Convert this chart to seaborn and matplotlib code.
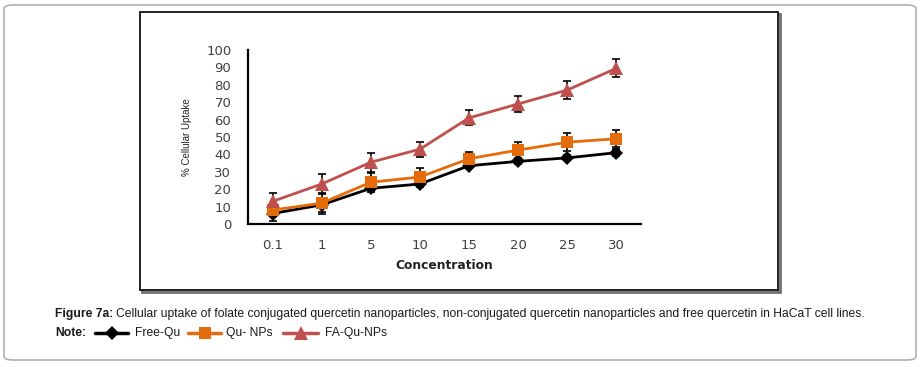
import numpy as np
import pandas as pd
import seaborn as sns
import matplotlib.pyplot as plt
from matplotlib.patches import Rectangle, FancyBboxPatch
from matplotlib.lines import Line2D

concentrations = ['0.1', '1', '5', '10', '15', '20', '25', '30']
free_qu = [6, 11, 20.5, 23, 33.5, 36, 38, 41]
free_qu_err = [4, 4, 1.5, 1.5, 1.5, 1.5, 1.5, 2]
qu_nps = [8, 12, 24, 27, 37.5, 42.5, 47, 49]
qu_nps_err = [3, 6, 5.5, 5, 4, 4.5, 5.2, 5]
fa_qu_nps = [13, 23, 35.5, 43, 61, 69, 77, 89.5]
fa_qu_nps_err = [5, 5.5, 5.5, 4.3, 4.3, 4.7, 5.2, 5.2]

series_names = ['Free-Qu', 'Qu- NPs', 'FA-Qu-NPs']
colors = {'Free-Qu': '#000000', 'Qu- NPs': '#E46C0A', 'FA-Qu-NPs': '#C0504D'}
markers = {'Free-Qu': 'D', 'Qu- NPs': 's', 'FA-Qu-NPs': '^'}
msizes = {'Free-Qu': 7, 'Qu- NPs': 8.5, 'FA-Qu-NPs': 10}

frames = []
for name, vals, errs in zip(series_names, [free_qu, qu_nps, fa_qu_nps],
                            [free_qu_err, qu_nps_err, fa_qu_nps_err]):
    frames.append(pd.DataFrame({'Concentration': concentrations, 'pos': range(len(concentrations)),
                                'Uptake': vals, 'err': errs, 'Series': name}))
data = pd.concat(frames, ignore_index=True)

sns.set_style('white')
plt.rcParams['font.family'] = ['DejaVu Sans']

fig = plt.figure(figsize=(9.21, 3.67), dpi=100)

# outer rounded frame and inner (shadowed) chart frame, kept behind the axes
fig.patches.append(FancyBboxPatch((4 / 921, 7 / 367), 912 / 921, 355 / 367,
                                  boxstyle='round,pad=0,rounding_size=0.01',
                                  transform=fig.transFigure, fill=False,
                                  edgecolor='#b0b0b0', linewidth=1.2, zorder=-2))
fig.patches.append(Rectangle((142 / 921, 75 / 367), 638 / 921, 278 / 367,
                             transform=fig.transFigure, fill=False,
                             edgecolor='#707070', linewidth=2, zorder=-2))
fig.patches.append(Rectangle((140 / 921, 77 / 367), 638 / 921, 278 / 367,
                             transform=fig.transFigure, facecolor='white',
                             edgecolor='#111111', linewidth=1.3, zorder=-1))

ax = fig.add_axes([248 / 921, 1 - 224 / 367, 393 / 921, 174 / 367])
ax.set_facecolor('none')

# error bars first, then lines with markers on top
for name in series_names:
    d = data[data['Series'] == name]
    ax.errorbar(d['pos'], d['Uptake'], yerr=d['err'], fmt='none',
                ecolor='#000000', elinewidth=1.2, capsize=3, capthick=1.2, zorder=2)

n_before = len(ax.lines)
sns.lineplot(data=data, x='pos', y='Uptake', hue='Series', style='Series',
             palette=colors, markers=markers, dashes=False, linewidth=2,
             markeredgewidth=0, legend=False, ax=ax, zorder=3)
for line, name in zip(ax.lines[n_before:], series_names):
    line.set_markersize(msizes[name])

ax.set_xlim(-0.5, 7.5)
ax.set_ylim(0, 100)
ax.set_yticks(range(0, 101, 10))
ax.set_xticks(range(len(concentrations)))
ax.set_xticklabels(concentrations)
ax.set_xticks(np.arange(-0.5, 8, 1), minor=True)
ax.tick_params(axis='x', which='major', length=0, pad=11, labelsize=9.5, labelcolor='#404040')
ax.tick_params(axis='x', which='minor', length=4, width=1.5, direction='out', color='black')
ax.tick_params(axis='y', length=4, width=1.5, direction='out', pad=8, labelsize=9.5,
               labelcolor='#404040', color='black')
for s in ['top', 'right']:
    ax.spines[s].set_visible(False)
for s in ['left', 'bottom']:
    ax.spines[s].set_color('black')
    ax.spines[s].set_linewidth(1.6)

ax.set_xlabel('Concentration', fontsize=8.8, fontweight='bold', color='#222222', labelpad=5)
ax.set_ylabel('% Cellular Uptake', fontsize=7, family='Liberation Sans', color='#222222', labelpad=10)

# caption
cap_font = dict(family='Liberation Sans', fontsize=8.7, color='#1a1a1a')
fig.text(55 / 921, 1 - 314 / 367, 'Figure 7a:', fontweight='bold', va='center', **cap_font)
fig.text(116 / 921, 1 - 314 / 367,
         'Cellular uptake of folate conjugated quercetin nanoparticles, non-conjugated quercetin '
         'nanoparticles and free quercetin in HaCaT cell lines.', va='center', **cap_font)
fig.text(55 / 921, 1 - 333 / 367, 'Note:', fontweight='bold', va='center', **cap_font)

legend_items = [(95, 128, 135, 'Free-Qu'), (188, 221, 226, 'Qu- NPs'), (283, 318, 325, 'FA-Qu-NPs')]
for (x0, x1, xt, name) in legend_items:
    yy = 1 - 333 / 367
    fig.lines.append(Line2D([x0 / 921, x1 / 921], [yy, yy], transform=fig.transFigure,
                            color=colors[name], linewidth=2.5))
    fig.lines.append(Line2D([(x0 + x1) / 2 / 921], [yy], transform=fig.transFigure,
                            color=colors[name], marker=markers[name],
                            markersize=msizes[name], markeredgewidth=0))
    fig.text(xt / 921, yy, name, va='center', **cap_font)

fig.savefig('out.png', dpi=100)
